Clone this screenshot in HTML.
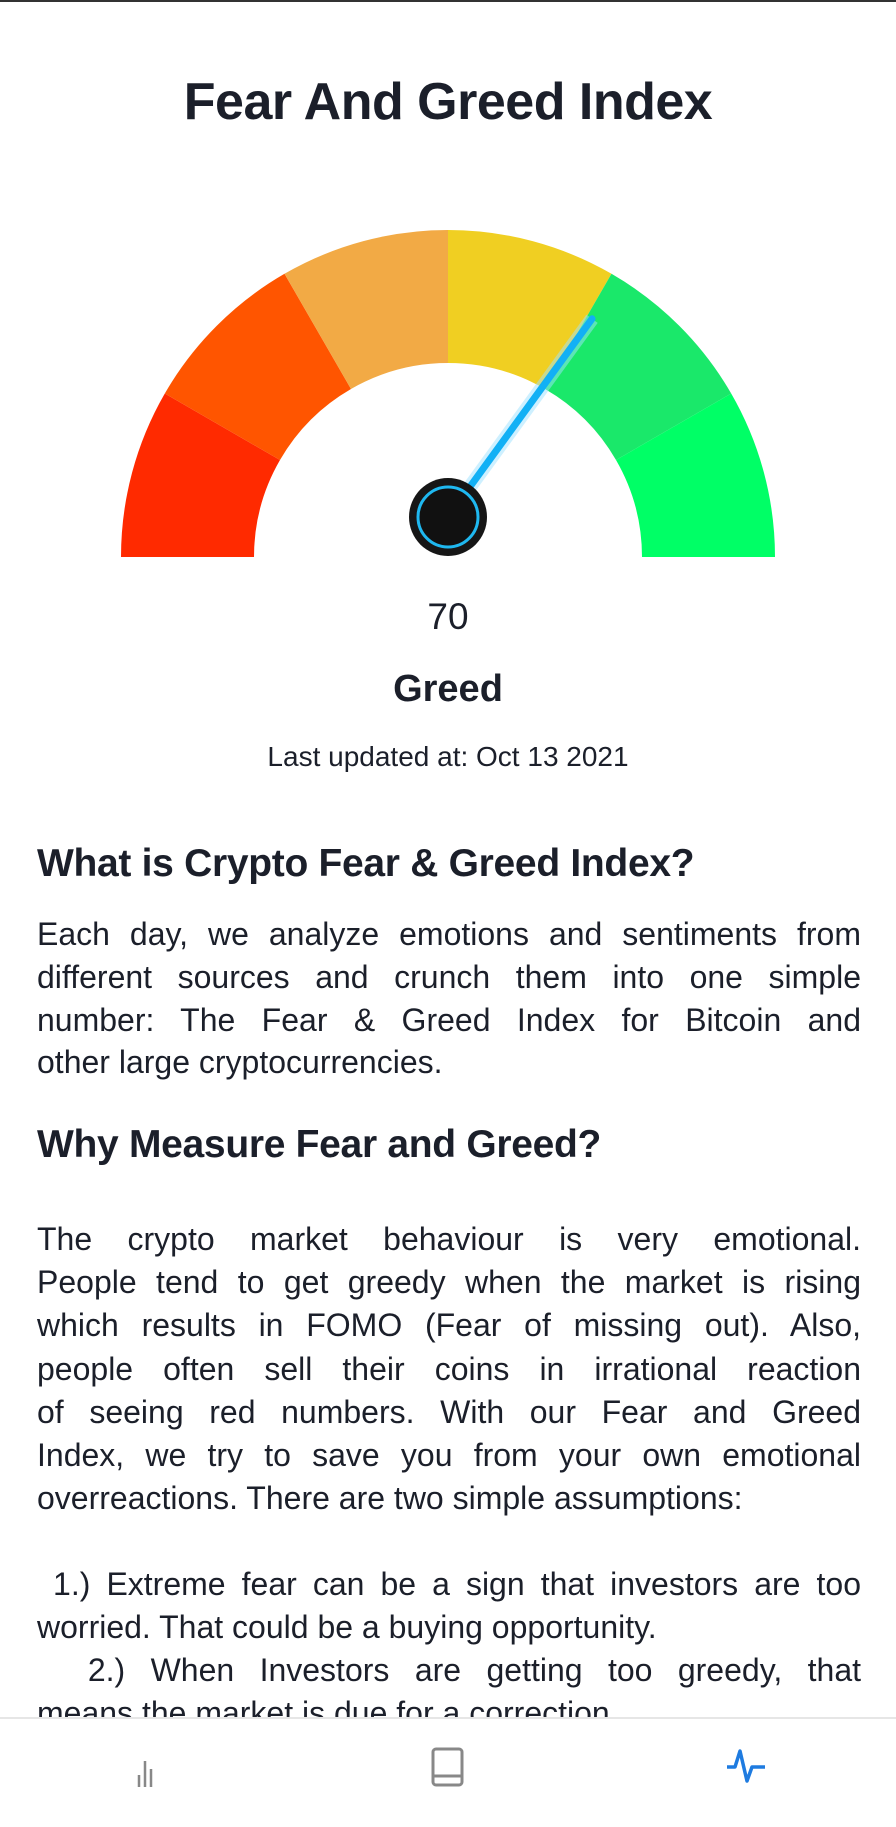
<!DOCTYPE html>
<html><head><meta charset="utf-8"><style>
body{margin:0;width:896px;height:1825px;background:#fff;overflow:hidden;position:relative;font-family:"Liberation Sans",sans-serif;color:#1b1f2a}
.abs{position:absolute}
.c{left:0;width:896px;text-align:center}
.ln{position:absolute;left:37px;width:824px;white-space:nowrap;text-align:justify;text-align-last:justify;font-size:32px}
.ln.l{text-align-last:left}
h2{margin:0;position:absolute;left:37px;font-size:39px;font-weight:bold;letter-spacing:-0.3px}
</style></head><body>
<div class="abs" style="left:0;top:0;width:896px;height:2px;background:#333"></div>
<div class="abs c" style="top:72px;font-size:52px;font-weight:bold;letter-spacing:-0.5px">Fear And Greed Index</div>
<svg class="abs" style="left:0;top:0" width="896" height="600" id="gauge"></svg>
<div class="abs c" style="top:596px;font-size:37px">70</div>
<div class="abs c" style="top:668px;font-size:38px;font-weight:bold">Greed</div>
<div class="abs c" style="top:741px;font-size:28px">Last updated at: Oct 13 2021</div>
<h2 style="top:842px">What is Crypto Fear &amp; Greed Index?</h2>
<div>
<div class="ln" style="top:916px">Each day, we analyze emotions and sentiments from</div>
<div class="ln" style="top:959px">different sources and crunch them into one simple</div>
<div class="ln" style="top:1002px">number: The Fear &amp; Greed Index for Bitcoin and</div>
<div class="ln l" style="top:1044px">other large cryptocurrencies.</div>
</div>
<h2 style="top:1123px">Why Measure Fear and Greed?</h2>
<div>
<div class="ln" style="top:1221px">The crypto market behaviour is very emotional.</div>
<div class="ln" style="top:1264px">People tend to get greedy when the market is rising</div>
<div class="ln" style="top:1307px">which results in FOMO (Fear of missing out). Also,</div>
<div class="ln" style="top:1351px">people often sell their coins in irrational reaction</div>
<div class="ln" style="top:1394px">of seeing red numbers. With our Fear and Greed</div>
<div class="ln" style="top:1437px">Index, we try to save you from your own emotional</div>
<div class="ln l" style="top:1480px">overreactions. There are two simple assumptions:</div>
<div class="ln" style="top:1566px">&nbsp;1.) Extreme fear can be a sign that investors are too</div>
<div class="ln l" style="top:1609px">worried. That could be a buying opportunity.</div>
<div class="ln" style="top:1652px">&nbsp;&nbsp;2.) When Investors are getting too greedy, that</div>
<div class="ln l" style="top:1695px">means the market is due for a correction.</div>
</div>
<div class="abs" style="left:0;top:1717px;width:896px;height:108px;background:#fff;border-top:2px solid #e6e6e6">
<svg class="abs" style="left:130px;top:30px" width="40" height="44"><path d="M9 38V26M15 38V12M21 38V20" stroke="#888" stroke-width="2.5" fill="none"/></svg>
<svg class="abs" style="left:428px;top:27px" width="40" height="44"><rect x="5" y="3" width="29" height="36" rx="3" stroke="#888" stroke-width="3" fill="none"/><path d="M5 30H34" stroke="#888" stroke-width="3"/></svg>
<svg class="abs" style="left:725px;top:28px" width="46" height="40"><path d="M2 20H10L15 4L22 34L27 20H40" stroke="#1e7be0" stroke-width="3.5" fill="none" stroke-linejoin="round"/></svg>
</div>
<script>
const segmentColors=["#FF2A00","#FF5500","#F2AA45","#F0CF22","#1AE86A","#00FF66"];
const gaugeMin=0, gaugeMax=100;
const gaugeValue=70;
const svg=document.getElementById('gauge');
const NS='http://www.w3.org/2000/svg';
const cx=448,cy=557,R=327,r=194;
function ang(v){return Math.PI*(1-(v-gaugeMin)/(gaugeMax-gaugeMin));}
function pt(a,rad){return [cx+rad*Math.cos(a),cy-rad*Math.sin(a)];}
const n=segmentColors.length;
segmentColors.forEach((col,i)=>{
 const v0=gaugeMin+(gaugeMax-gaugeMin)*i/n, v1=gaugeMin+(gaugeMax-gaugeMin)*(i+1)/n;
 const a0=ang(v0),a1=ang(v1);
 const p0=pt(a0,R),p1=pt(a1,R),q1=pt(a1,r),q0=pt(a0,r);
 const p=document.createElementNS(NS,'path');
 p.setAttribute('d',`M${p0}A${R} ${R} 0 0 1 ${p1}L${q1}A${r} ${r} 0 0 0 ${q0}Z`);
 p.setAttribute('fill',col);
 
 
 svg.appendChild(p);
});
const hx=448,hy=517;
const a=ang(gaugeValue);
const tip=[hx+245*Math.cos(a),hy-245*Math.sin(a)];
const glow=document.createElementNS(NS,'line');
glow.setAttribute('x1',hx);glow.setAttribute('y1',hy);glow.setAttribute('x2',tip[0]);glow.setAttribute('y2',tip[1]);
glow.setAttribute('stroke','#9fe3ff');glow.setAttribute('stroke-width','14');glow.setAttribute('opacity','0.5');


svg.appendChild(glow);
const nd=document.createElementNS(NS,'line');
nd.setAttribute('x1',hx);nd.setAttribute('y1',hy);nd.setAttribute('x2',tip[0]);nd.setAttribute('y2',tip[1]);
nd.setAttribute('stroke','#12b0f5');nd.setAttribute('stroke-width','7');nd.setAttribute('stroke-linecap','round');


svg.appendChild(nd);
const hub=document.createElementNS(NS,'circle');
hub.setAttribute('cx',hx);hub.setAttribute('cy',hy);hub.setAttribute('r','39');hub.setAttribute('fill','#161616');


svg.appendChild(hub);
const ring=document.createElementNS(NS,'circle');
ring.setAttribute('cx',hx);ring.setAttribute('cy',hy);ring.setAttribute('r','30');ring.setAttribute('fill','#111');
ring.setAttribute('stroke','#1fb8f0');ring.setAttribute('stroke-width','3');


svg.appendChild(ring);
</script>
</body></html>
